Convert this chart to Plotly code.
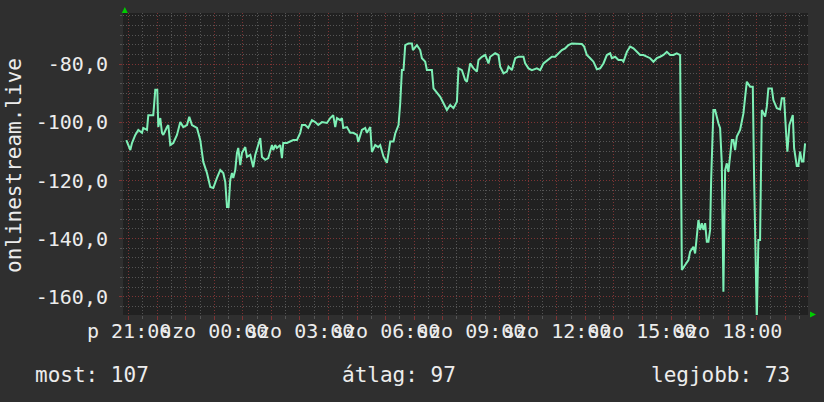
import plotly.graph_objects as go

# time in hours (24 = Saturday 00:00), value
hours = [20.916, 21.056, 21.115, 21.231, 21.336, 21.466, 21.511, 21.641, 21.686, 21.861,
         21.931, 22.001, 22.036, 22.106, 22.166, 22.212, 22.341, 22.387, 22.457, 22.562,
         22.691, 22.807, 22.912, 23.042, 23.122, 23.217, 23.392, 23.508, 23.613, 23.742,
         23.858, 23.963, 24.092, 24.208, 24.313, 24.383, 24.443, 24.499, 24.558, 24.618,
         24.663, 24.733, 24.793, 24.838, 24.909, 24.968, 25.084, 25.143, 25.259, 25.364,
         25.434, 25.493, 25.609, 25.669, 25.784, 25.889, 26.019, 26.064, 26.134, 26.194,
         26.31, 26.369, 26.415, 26.544, 26.66, 26.765, 26.894, 27.01, 27.07, 27.185,
         27.29, 27.42, 27.535, 27.641, 27.77, 27.945, 28.061, 28.166, 28.236, 28.296,
         28.411, 28.471, 28.516, 28.646, 28.761, 28.866, 28.996, 29.042, 29.171, 29.287,
         29.346, 29.462, 29.521, 29.637, 29.742, 29.812, 29.928, 30.047, 30.103, 30.162,
         30.278, 30.338, 30.453, 30.513, 30.572, 30.628, 30.688, 30.803, 30.922, 30.957,
         31.098, 31.213, 31.273, 31.388, 31.448, 31.623, 31.679, 31.798, 31.914, 32.029,
         32.148, 32.264, 32.38, 32.499, 32.555, 32.674, 32.789, 32.849, 32.905, 32.964,
         33.08, 33.199, 33.255, 33.374, 33.49, 33.605, 33.665, 33.84, 33.956, 34.015,
         34.131, 34.25, 34.306, 34.425, 34.541, 34.656, 34.831, 34.891, 35.007, 35.126,
         35.301, 35.416, 35.532, 35.707, 35.826, 35.942, 36.057, 36.176, 36.292, 36.408,
         36.526, 36.702, 36.877, 36.957, 37.052, 37.168, 37.283, 37.402, 37.518, 37.633,
         37.752, 37.868, 37.928, 38.043, 38.159, 38.278, 38.334, 38.453, 38.568, 38.684,
         38.803, 38.919, 39.034, 39.154, 39.269, 39.385, 39.504, 39.619, 39.735, 39.854,
         39.97, 40.085, 40.204, 40.32, 40.38, 40.495, 40.611, 40.67, 40.786, 40.845,
         40.905, 40.961, 41.021, 41.08, 41.136, 41.196, 41.255, 41.311, 41.371, 41.406,
         41.486, 41.546, 41.661, 41.721, 41.78, 41.836, 41.896, 41.955, 42.011, 42.071,
         42.131, 42.187, 42.246, 42.306, 42.421, 42.537, 42.656, 42.772, 42.866, 42.911,
         43.006, 43.062, 43.121, 43.181, 43.297, 43.356, 43.412, 43.532, 43.587, 43.707,
         43.822, 43.882, 43.963, 44.033, 44.078, 44.148, 44.267, 44.313, 44.407, 44.463,
         44.523, 44.582, 44.638, 44.698]
values = [-106.1, -109.5, -107.1, -104.3, -102.6, -103.6, -101.9, -102.6, -97.5, -97.5,
          -88.8, -88.8, -101.6, -98.5, -103.6, -104.3, -101.6, -100.9, -107.8, -107.1,
          -104.3, -99.9, -101.6, -100.9, -98.1, -100.9, -101.9, -106.1, -113.6, -117.4,
          -122.2, -122.6, -119.1, -116.4, -117.4, -120.5, -129.1, -129.1, -119.8, -117.4,
          -119.1, -116.4, -110.5, -108.8, -114.7, -110.5, -108.5, -111.9, -111.2, -115.4,
          -111.2, -109.5, -105.4, -111.9, -112.9, -112.3, -107.8, -109.5, -107.8, -108.8,
          -107.8, -112.3, -107.1, -107.1, -106.7, -106.1, -106.1, -103.6, -100.9, -100.9,
          -101.9, -99.2, -99.9, -100.9, -99.9, -100.2, -98.5, -97.5, -101.6, -98.5,
          -99.2, -98.5, -101.9, -101.6, -103.6, -103.6, -104.3, -106.7, -102.6, -101.9,
          -103.6, -101.6, -110.2, -107.8, -108.5, -107.8, -111.8, -113.9, -110.6, -106.6,
          -106.6, -103.8, -100.9, -93.4, -82.0, -82.0, -73.4, -72.8, -72.8, -75.1,
          -73.4, -75.1, -77.9, -79.1, -82.0, -82.0, -88.3, -90.0, -91.2, -93.4,
          -95.7, -94.0, -95.1, -92.9, -81.4, -82.0, -85.4, -86.0, -83.1, -79.7,
          -81.4, -82.5, -78.5, -77.4, -76.8, -79.7, -77.4, -76.2, -76.8, -80.8,
          -83.1, -82.5, -80.8, -82.0, -77.9, -77.4, -77.4, -79.7, -81.4, -82.0,
          -81.4, -82.0, -79.7, -78.5, -77.4, -77.4, -76.2, -75.1, -74.5, -73.4,
          -72.8, -73.0, -73.0, -73.9, -76.8, -77.9, -79.1, -81.7, -81.4, -79.7,
          -76.8, -76.2, -77.9, -77.4, -78.5, -78.5, -79.1, -75.7, -73.9, -74.5,
          -75.7, -76.8, -76.8, -77.4, -77.9, -79.1, -77.9, -77.4, -76.8, -75.7,
          -76.8, -76.8, -76.2, -76.8, -150.8, -149.1, -147.4, -144.5, -142.8, -145.1,
          -139.9, -133.6, -137.0, -134.7, -137.0, -134.7, -141.1, -141.1, -137.0, -119.8,
          -95.7, -95.7, -100.3, -102.0, -114.1, -158.3, -116.4, -114.1, -117.0, -111.8,
          -106.1, -106.1, -109.5, -104.9, -102.6, -96.9, -86.0, -87.7, -87.7, -118.7,
          -168.0, -140.5, -140.5, -95.7, -98.0, -94.6, -88.3, -88.3, -92.3, -95.1,
          -95.5, -91.7, -91.7, -103.8, -110.1, -100.9, -97.5, -108.9, -115.0, -115.0,
          -110.1, -113.5, -113.5, -107.2]

x_tick_hours = list(range(21, 45))
x_label_hours = [21, 24, 27, 30, 33, 36, 39, 42]
x_label_texts = ["p 21:00", "szo 00:00", "szo 03:00", "szo 06:00", "szo 09:00",
                 "szo 12:00", "szo 15:00", "szo 18:00"]
y_tick_vals = [-160, -140, -120, -100, -80]
y_tick_texts = ["-160,0", "-140,0", "-120,0", "-100,0", "-80,0"]
series_name = "onlinestream.live"
summary_labels = ["most: 107", "átlag: 97", "legjobb: 73"]

FONT = "DejaVu Sans Mono"
BG = "#2f2f2f"
PLOT_BG = "#212121"
TXT = "#ececec"
RED = "#7e3434"
GREY = "#555555"

fig = go.Figure()
fig.add_trace(go.Scatter(x=hours, y=values, mode="lines",
                         line=dict(color="#7ef0b6", width=2), showlegend=False,
                         hoverinfo="skip"))

fig.update_layout(
    width=824, height=402,
    margin=dict(l=123, r=16, t=13, b=87),
    paper_bgcolor=BG, plot_bgcolor=PLOT_BG,
    font=dict(family=FONT, size=20, color=TXT),
    showlegend=False,
)
fig.update_xaxes(
    range=[20.8, 44.8], tickmode="array", tickvals=x_tick_hours, showticklabels=False,
    showgrid=True, gridcolor=RED, griddash="1px,2px", gridwidth=1,
    ticks="outside", ticklen=4, tickcolor=RED, zeroline=False, showline=False,
    minor=dict(tick0=0, dtick=0.5, showgrid=True, gridcolor=GREY, griddash="1px,2px",
               ticks="outside", ticklen=3, tickcolor=GREY),
)
fig.update_yaxes(
    range=[-166.3, -62.34], tickmode="array", tickvals=y_tick_vals, ticktext=y_tick_texts,
    showgrid=True, gridcolor=RED, griddash="1px,2px", gridwidth=1,
    ticks="outside", ticklen=3, tickcolor=RED, zeroline=False, showline=False,
    ticklabelstandoff=7,
    tickfont=dict(family=FONT, size=20, color=TXT),
    minor=dict(tick0=-80, dtick=20 / 6, showgrid=True, gridcolor=GREY, griddash="1px,2px",
               ticks="outside", ticklen=2, tickcolor=GREY),
)

W, H = 685.0, 302.0
def px(xp):
    return (xp - 123) / W
def py(yp):
    return (315 - yp) / H

# x tick labels placed at their hour positions on the x axis
for h, t in zip(x_label_hours, x_label_texts):
    fig.add_annotation(text=t, x=h, xref="x", y=py(331), yref="paper",
                       xanchor="center", yanchor="middle", showarrow=False,
                       font=dict(family=FONT, size=20, color=TXT))

# green arrows at axis ends
up = f"M {px(121.8)},{py(13)} L {px(127.8)},{py(13)} L {px(124.8)},{py(7)} Z"
right = f"M {px(810)},{py(311.5)} L {px(810)},{py(317.5)} L {px(816)},{py(314.5)} Z"
for p in (up, right):
    fig.add_shape(type="path", path=p, xref="paper", yref="paper",
                  fillcolor="#00cc00", line=dict(width=0), layer="above")

fig.add_annotation(text=series_name, textangle=-90, xref="paper", yref="paper",
                   x=px(14), y=py(165), showarrow=False, xanchor="center", yanchor="middle",
                   font=dict(family=FONT, size=21, color=TXT))
fig.add_annotation(text=summary_labels[0], xref="paper", yref="paper", x=px(33), y=py(375),
                   xanchor="left", yanchor="middle", showarrow=False,
                   font=dict(family=FONT, size=21, color=TXT))
fig.add_annotation(text=summary_labels[1], xref="paper", yref="paper", x=px(340), y=py(375),
                   xanchor="left", yanchor="middle", showarrow=False,
                   font=dict(family=FONT, size=21, color=TXT))
fig.add_annotation(text=summary_labels[2], xref="paper", yref="paper", x=px(792), y=py(375),
                   xanchor="right", yanchor="middle", showarrow=False,
                   font=dict(family=FONT, size=21, color=TXT))

fig.write_html("out.html", config={"displayModeBar": False},
               post_script="document.body.style.margin='0';document.body.style.overflow='hidden';")
